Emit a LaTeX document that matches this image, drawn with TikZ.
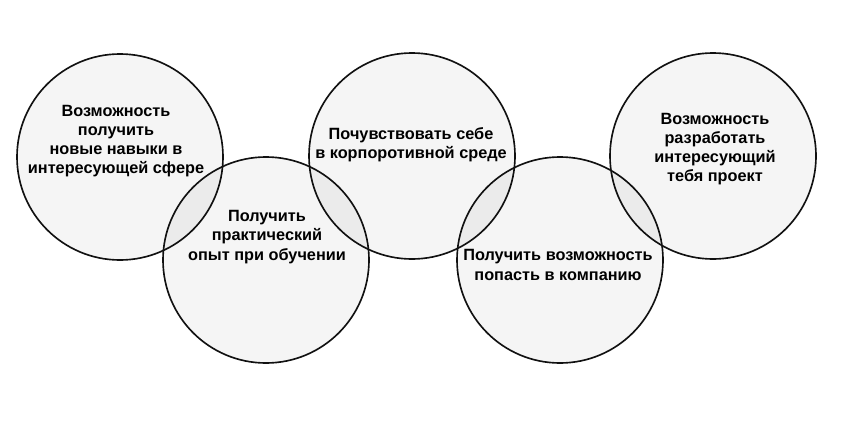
\documentclass[tikz,border=0pt]{standalone}
\usepackage{fontspec}
\setmainfont{Liberation Sans}
\usepackage{xcolor}
\usetikzlibrary{positioning,calc}
\definecolor{ringgray}{HTML}{111111}
\tikzset{
  ring/.style={circle, draw=ringgray, fill=black, fill opacity=0.04, text opacity=1, minimum size=6.18cm, inner sep=0pt, line width=1.4pt},
  ringtext/.style={align=center, font=\fontsize{13.9}{16.3}\selectfont\bfseries, text=black}
}
\begin{document}
\begin{tikzpicture}[x=0.03cm, y=-0.03cm]
  \useasboundingbox (0,0) rectangle (848,422);
  \node[ring] (c1) at (120,157) {};
  \node[ring] (c2) at (266,260) {};
  \node[ring] (c3) at (412,156) {};
  \node[ring] (c4) at (560,260) {};
  \node[ring] (c5) at (713,156) {};

  \node[ringtext] (t1) at (116,141) {Возможность\\получить\\новые навыки в\\интересующей сфере};
  \node[ringtext] (t2) at (267,237) {Получить\\практический\\опыт при обучении};
  \node[ringtext] (t3) at (411,145) {Почувствовать себе\\в корпоротивной среде};
  \node[ringtext] (t4) at (558,265) {Получить возможность\\попасть в компанию};
  \node[ringtext] (t5) at (715,149) {Возможность\\разработать\\интересующий\\тебя проект};
\end{tikzpicture}
\end{document}
